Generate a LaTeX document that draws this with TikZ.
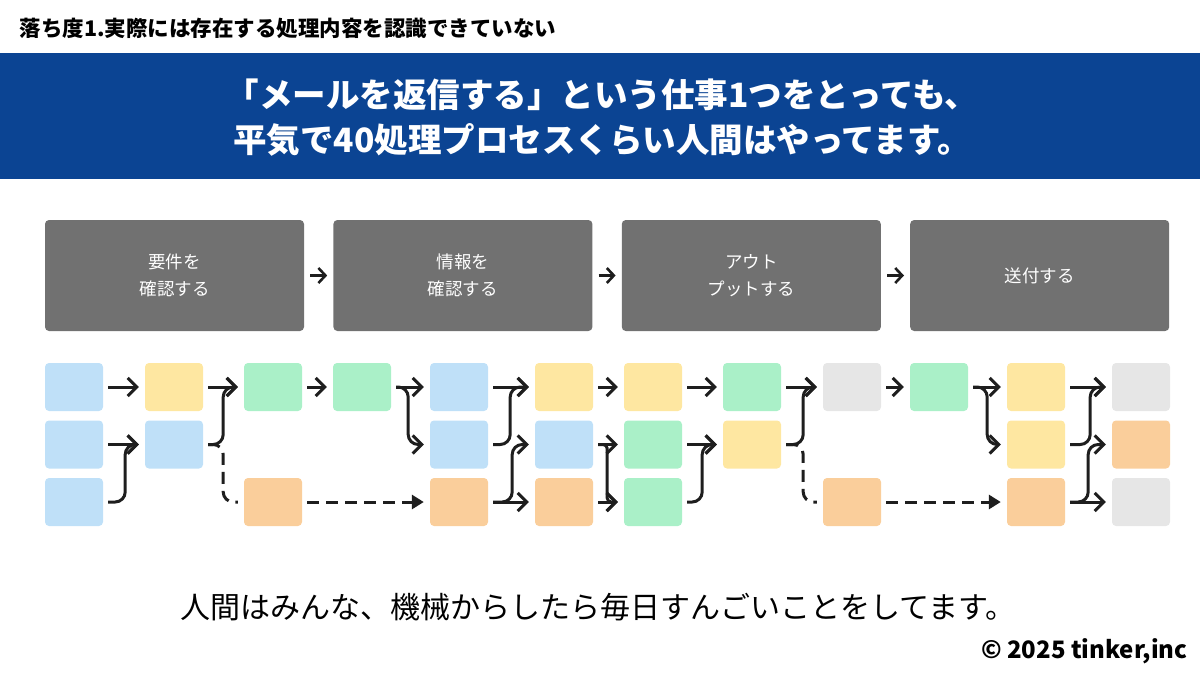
\documentclass[tikz,border=0pt]{standalone}
\usepackage{fontspec}
\setmainfont{Noto Sans CJK JP}
\usepackage{tikz}
\usetikzlibrary{arrows.meta}
\usetikzlibrary{positioning}

\definecolor{bannerblue}{RGB}{11,68,147}
\definecolor{phasegray}{RGB}{113,113,113}
\definecolor{ink}{RGB}{30,30,30}
\definecolor{tblue}{RGB}{191,224,248}
\definecolor{tyellow}{RGB}{254,231,161}
\definecolor{tgreen}{RGB}{170,240,200}
\definecolor{torange}{RGB}{250,206,155}
\definecolor{tgray}{RGB}{230,230,230}

\begin{document}
\begin{tikzpicture}[x=1pt,y=-1pt,
    phase/.style={rectangle, rounded corners=4pt, fill=phasegray, text=white, minimum width=259pt, minimum height=111pt, align=center, font=\fontsize{17.5}{27.5}\selectfont},
    task/.style={rectangle, rounded corners=4pt, minimum width=58pt, minimum height=48pt, inner sep=0pt},
    flow/.style={draw=ink, line width=3pt, rounded corners=10pt, shorten <=5pt, shorten >=6pt, -{Straight Barb[length=9pt,width=18pt]}},
    skip/.style={flow, dash pattern=on 12pt off 7pt, -},
    leap/.style={skip, -{Triangle[length=12pt,width=14pt]}},
    phasearrow/.style={draw=ink, line width=2.6pt, shorten <=6pt, shorten >=6pt, -{Straight Barb[length=7pt,width=15pt]}},
    every node/.style={node distance=29pt}
    ]
    \useasboundingbox (0,0) rectangle (1200,675);
    \def\colx{{74,174,273,362,459,564,653,752,852,939,1036,1141}}

    % title and banner
    \node[anchor=west, font=\bfseries\fontsize{21.5}{24}\selectfont] (title) at (16,28) {落ち度1.実際には存在する処理内容を認識できていない};
    \fill[bannerblue] (0,53) rectangle (1200,179);
    \node[text=white, align=center, font=\bfseries\fontsize{33.5}{45}\selectfont] (headline) at (602,118)
        {「メールを返信する」という仕事1つをとっても、\\平気で40処理プロセスくらい人間はやってます。};

    % phases
    \node[phase] (p1) at (174.5,275.5) {要件を\\確認する};
    \node[phase, right=of p1] (p2) {情報を\\確認する};
    \node[phase, right=of p2] (p3) {アウト\\プットする};
    \node[phase, right=of p3] (p4) {送付する};
    \foreach \a/\b in {p1/p2, p2/p3, p3/p4}
        \draw[phasearrow] (\a) -- (\b);

    % task boxes
    \foreach \col/\row/\clr in {0/0/tblue, 0/1/tblue, 0/2/tblue,
        1/0/tyellow, 1/1/tblue,
        2/0/tgreen, 2/2/torange,
        3/0/tgreen,
        4/0/tblue, 4/1/tblue, 4/2/torange,
        5/0/tyellow, 5/1/tblue, 5/2/torange,
        6/0/tyellow, 6/1/tgreen, 6/2/tgreen,
        7/0/tgreen, 7/1/tyellow,
        8/0/tgray, 8/2/torange,
        9/0/tgreen,
        10/0/tyellow, 10/1/tyellow, 10/2/torange,
        11/0/tgray, 11/1/torange, 11/2/tgray} {
        \pgfmathsetmacro\xx{\colx[\col]}
        \node[task, fill=\clr] (c\col r\row) at (\xx, 387+57.5*\row) {};
    }

    % straight steps
    \foreach \a/\b in {c0r0/c1r0, c0r1/c1r1, c1r0/c2r0, c2r0/c3r0, c3r0/c4r0,
        c4r0/c5r0, c4r2/c5r2, c5r0/c6r0, c5r1/c6r1, c5r2/c6r2, c6r0/c7r0,
        c6r1/c7r1, c7r0/c8r0, c8r0/c9r0, c9r0/c10r0, c10r0/c11r0, c10r2/c11r2}
        \draw[flow] (\a) -- (\b);

    % merging and splitting steps
    \foreach \a/\b/\d in {c0r2/c1r1/22, c1r1/c2r0/20, c3r0/c4r1/17, c4r1/c5r0/22,
        c4r2/c5r1/24, c6r2/c7r1/20, c7r1/c8r0/22, c9r0/c10r1/19,
        c10r1/c11r0/25, c10r2/c11r1/23}
        \draw[flow] (\a.east) -- ([xshift=\d pt]\a.east) |- (\b.west);
    \draw[flow, rounded corners=4pt] (c5r1.east) -- ([xshift=14pt]c5r1.east) |- (c6r2.west);

    % skipped work
    \draw[skip] (c1r1.east) -- ([xshift=20pt]c1r1.east) |- (c2r2.west);
    \draw[skip] (c7r1.east) -- ([xshift=22pt]c7r1.east) |- (c8r2.west);
    \draw[leap] (c2r2) -- (c4r2);
    \draw[leap] (c8r2) -- (c10r2);

    % footer
    \node[font=\fontsize{30}{34}\selectfont] (summary) at (598,607) {人間はみんな、機械からしたら毎日すんごいことをしてます。};
    \node[anchor=east, font=\bfseries\fontsize{24}{28}\selectfont] (credit) at (1191,651) {© 2025 tinker,inc};
\end{tikzpicture}
\end{document}
